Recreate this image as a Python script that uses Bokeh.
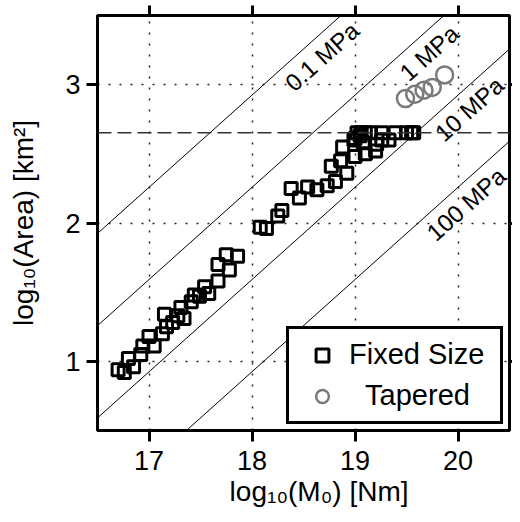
import math
from bokeh.plotting import figure
from bokeh.models import LinearAxis, FixedTicker, Range1d, Legend, LegendItem, Span
from bokeh.core.properties import value
from bokeh.embed import file_html
from bokeh.resources import INLINE

# ---------------- data ----------------
fixed_logM0 = [16.70, 16.76, 16.80, 16.85, 16.92, 16.94, 17.00, 17.05, 17.13, 17.15,
               17.17, 17.23, 17.28, 17.31, 17.34, 17.41, 17.44, 17.49, 17.54, 17.58,
               17.67, 17.67, 17.75, 17.78, 17.86,
               18.08, 18.14, 18.25, 18.29, 18.38, 18.46, 18.54, 18.63, 18.73, 18.81,
               18.77, 18.86, 18.92, 18.88, 19.00, 19.10, 19.20, 18.99, 19.05, 19.21,
               19.33, 19.00, 19.08, 19.26,
               19.02, 19.06, 19.10, 19.15, 19.26, 19.39, 19.50, 19.55, 19.57]
fixed_logA = [0.94, 0.92, 1.02, 0.96, 1.05, 1.11, 1.18, 1.11, 1.20, 1.34,
              1.25, 1.28, 1.33, 1.39, 1.31, 1.43, 1.48, 1.47, 1.54, 1.49,
              1.58, 1.70, 1.77, 1.66, 1.76,
              1.97, 1.96, 2.05, 2.09, 2.25, 2.18, 2.26, 2.24, 2.27, 2.30,
              2.41, 2.45, 2.36, 2.55, 2.48, 2.50, 2.52, 2.60, 2.63, 2.57,
              2.60, 2.61, 2.58, 2.60,
              2.653, 2.653, 2.653, 2.653, 2.653, 2.653, 2.653, 2.653, 2.653]
tapered_logM0 = [19.49, 19.58, 19.67, 19.75, 19.87]
tapered_logA = [2.90, 2.93, 2.96, 2.98, 3.07]

stress_drops_MPa = [0.1, 1, 10, 100]
stress_labels = ["0.1 MPa", "1 MPa", "10 MPa", "100 MPa"]
label_logM0 = [18.68, 19.72, 20.11, 20.08]
fixed_area_cap = 2.653
x_lim = [16.5, 20.5]
y_lim = [0.5, 3.5]
x_ticks = [17, 18, 19, 20]
y_ticks = [1, 2, 3]

FONT = "Liberation Sans"
NB = "\u00a0"


def log_area(logm0, dsig_mpa):
    # circular crack: M0 = (16/7) dsig (A/pi)^1.5 ; A in km^2
    c = -(2.0 / 3.0) * math.log10(16.0 / (7.0 * math.pi ** 1.5)) - 6.0
    return (2.0 / 3.0) * (logm0 - math.log10(dsig_mpa * 1e6)) + c


p = figure(width=512, height=514,
           x_range=Range1d(*x_lim), y_range=Range1d(*y_lim),
           output_backend="svg", toolbar_location=None,
           min_border_left=97, min_border_right=3,
           min_border_top=15, min_border_bottom=84)
p.background_fill_color = "white"
p.border_fill_color = "white"
p.outline_line_color = "black"
p.outline_line_width = 3

# grid
p.grid.grid_line_color = "black"
p.grid.grid_line_dash = "2 9"
p.grid.grid_line_width = 1.5
p.grid.grid_line_alpha = 0.85


def style_axis(ax, ticks, tick_out):
    ax.ticker = FixedTicker(ticks=ticks)
    ax.major_tick_out = tick_out
    ax.major_tick_in = 0
    ax.minor_tick_out = 0
    ax.minor_tick_in = 0
    ax.axis_line_width = 3
    ax.axis_line_color = "black"
    ax.major_tick_line_width = 3
    ax.major_tick_line_color = "black"
    ax.major_label_text_font = FONT
    ax.major_label_text_font_size = "27px"
    ax.major_label_text_color = "black"
    ax.axis_label_text_font = FONT
    ax.axis_label_text_font_size = "28px"
    ax.axis_label_text_font_style = "normal"
    ax.axis_label_text_color = "black"


xa = p.xaxis[0]
ya = p.yaxis[0]
style_axis(xa, x_ticks, 11)
style_axis(ya, y_ticks, 11)
xa.major_label_standoff = 9
ya.major_label_standoff = 6
xa.axis_label = NB * 4 + "log\u2081\u2080(M\u2080) [Nm]"
xa.axis_label_standoff = 3
ya.axis_label = "log\u2081\u2080(Area) [km\u00b2]"
ya.axis_label_standoff = 23


def bare_axis(ax):
    ax.major_label_text_font_size = "0px"
    ax.major_label_text_color = None
    ax.major_label_text_alpha = 0
    ax.major_label_standoff = 0
    ax.axis_label = None


top = LinearAxis()
style_axis(top, x_ticks, 10)
bare_axis(top)
p.add_layout(top, "above")

right = LinearAxis()
style_axis(right, y_ticks, 3)
bare_axis(right)
p.add_layout(right, "right")

# stress-drop lines and labels
for ds in stress_drops_MPa:
    p.line(x=x_lim, y=[log_area(x, ds) for x in x_lim],
           line_color="black", line_width=1)

label_logA = [log_area(x, ds) - 0.175 for x, ds in zip(label_logM0, stress_drops_MPa)]
p.text(x=label_logM0, y=label_logA, text=stress_labels,
       angle=41.8, angle_units="deg", text_align="center", text_baseline="middle",
       text_font=value(FONT), text_font_size="24px", text_color="black")

# fixed size cap
p.add_layout(Span(location=fixed_area_cap, dimension="width", line_color="#333333",
                  line_width=1.5, line_dash="14 6"))

r_sq = p.scatter(fixed_logM0, fixed_logA, marker="square", size=12,
                 fill_color=None, line_color="black", line_width=3)
r_ci = p.scatter(tapered_logM0, tapered_logA, marker="circle", size=17,
                 fill_color=None, line_color="#7a7a7a", line_width=2.5)

legend = Legend(items=[LegendItem(label="Fixed Size", renderers=[r_sq]),
                       LegendItem(label=NB * 2 + "Tapered", renderers=[r_ci])],
                location="bottom_right")
legend.margin = 6
legend.padding = 9
legend.spacing = 8
legend.glyph_width = 48
legend.glyph_height = 32
legend.label_standoff = 3
legend.label_width = 142
legend.label_height = 32
legend.border_line_width = 3.5
legend.border_line_color = "black"
legend.border_line_alpha = 1
legend.background_fill_color = "white"
legend.background_fill_alpha = 1
legend.label_text_font = FONT
legend.label_text_font_size = "29px"
legend.label_text_color = "black"
p.add_layout(legend)

open("out.html", "w").write(file_html(p, INLINE))
